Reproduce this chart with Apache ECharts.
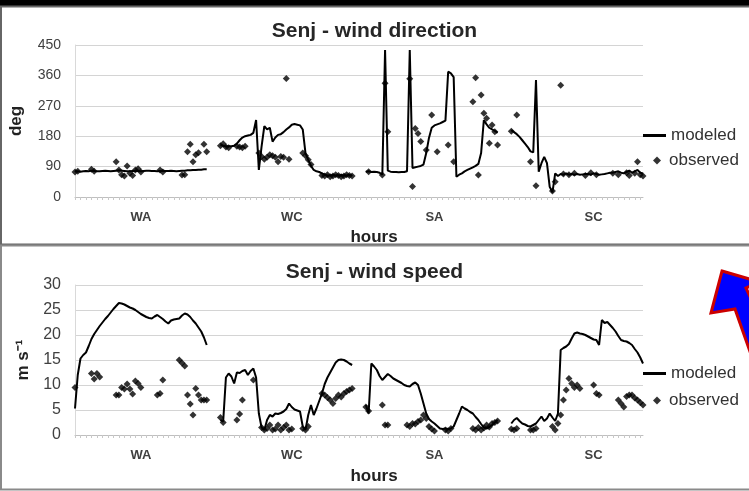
<!DOCTYPE html>
<html>
<head>
<meta charset="utf-8">
<script src="https://cdn.jsdelivr.net/npm/echarts@6/dist/echarts.min.js"></script>
<style>
html,body{margin:0;padding:0;background:#fff;}
#main{width:749px;height:491px;}
</style>
</head>
<body>
<div id="main"></div>
<script>
// hour index along the x axis, four runs of 49 hours with a short gap between them
var hourCount = 208;
var segStart = [0, 53, 106, 159];
var catLabels = ['WA', 'WC', 'SA', 'SC'];
var catLabelHour = [24, 79, 131, 189];

// wind direction, modeled (deg)
var dirModWA = [76,76,75,76,77,76,78,77,76,76,77,78,77,76,77,78,79,78,77,76,76,77,78,77,76,77,78,78,77,77,76,77,78,77,77,78,77,76,77,78,78,79,79,80,80,81,81,82,82];
var dirModWC = [154,152,150,150,150,152,158,168,176,180,182,184,190,228,80,150,210,200,205,164,176,184,186,192,200,206,214,216,214,212,200,130,110,92,80,76,74,70,66,64,64,65,64,64,65,64,64,65,64];
var dirModSA = [75,76,74,75,74,72,66,435,78,75,74,74,73,74,74,76,435,86,88,90,92,96,130,175,205,212,215,218,222,226,371,366,355,60,66,70,76,80,84,88,92,98,130,228,215,205,200,196,190];
var dirModSC = [198,192,186,178,168,158,148,135,132,346,75,100,119,100,30,14,70,62,68,66,70,66,68,66,68,66,67,68,68,66,70,68,66,67,68,70,72,72,74,76,72,70,74,78,72,76,80,72,70];

// wind direction, observed [hour, deg]
var dirObs = [[0,74],[1,76],[6,82],[7,76],[15,104],[16,80],[17,66],[18,62],[19,92],[20,70],[21,64],[22,80],[23,84],[24,74],[31,80],[32,74],[39,65],[40,66],[41,134],[42,156],[43,104],[44,125],[45,131],[47,156],[48,134],
  [53,152],[54,158],[55,148],[56,146],[59,150],[60,148],[61,146],[62,150],[67,130],[68,120],[69,112],[70,118],[71,125],[72,122],[73,118],[74,104],[75,120],[76,118],[77,351],[78,112],[83,130],[84,122],[85,110],[86,96],[90,64],[91,62],[92,66],[93,60],[94,62],[95,66],[96,64],[97,60],[98,62],[99,66],[100,64],[101,62],
  [107,75],[112,65],[113,337],[114,193],[122,350],[123,31],[124,203],[125,188],[126,164],[128,139],[130,243],[132,134],[136,154],[138,104],[145,282],[146,353],[147,65],[148,302],[149,248],[150,233],[151,159],[152,213],[153,193],[154,154],
  [159,195],[161,243],[166,104],[168,33],[174,18],[175,45],[177,331],[178,68],[180,66],[182,70],[186,64],[188,72],[190,66],[196,70],[198,66],[201,72],[202,64],[204,70],[205,104],[206,66],[207,62]];

// wind speed, modeled (m/s)
var spdModWA = [5.3,12,15.3,16,16.5,17.8,19.2,20.2,21,21.8,22.5,23.2,23.8,24.5,25.2,25.8,26.4,26.3,26.1,25.8,25.5,25.3,25,24.6,24.2,23.9,23.6,23.4,23.3,23.7,24,23.6,23.2,22.7,22.3,22.9,23.1,23.2,23.3,23.9,24.3,24.1,23.6,22.9,22.3,21.5,20.7,19.5,18];
var spdModWC = [3,2.7,11.5,12.3,11.7,10.3,12.5,12.4,12.8,13,12,12.8,13.3,11.5,4.3,1.5,1,3,4,3.7,4.3,4.2,4.4,4.7,5.2,6.3,5.6,5.1,4.9,4.7,1.7,1,4,6,4,5.3,6.8,8.3,10.2,11.5,12.5,13.5,14.5,15,15.1,15,14.7,14.3,14];
var spdModSA = [6,4.3,14.3,13.7,13,11.8,11,11.6,12.2,11.8,11.3,11,10.7,10.4,10,9.8,9.7,10.2,10.5,10,8.3,6.3,4.3,3.2,2.7,2.3,1.8,1.3,1.2,1.3,1.2,1.3,1.7,3,4.3,5.7,5.3,5,4.6,4.3,3.6,3,2.2,1.5,1.3,1.6,2,2.5,3];
var spdModSC = [2.3,3,3.4,2.8,2.3,2.1,1.8,1.7,2,2.3,3,3.7,2.8,3.3,4.3,3.5,2.8,4.3,17,17.4,17.7,18.2,19.3,20.3,20.5,20.3,20.2,20,19.7,19.4,19.1,19,18,23,22.4,22.6,22,21.4,20.7,19.8,19,18.8,18.7,18.4,18,17.2,16.5,15.5,14.3];

// wind speed, observed [hour, m/s]
var spdObs = [[0,9.5],[6,12.3],[7,11.2],[8,12.3],[9,11.6],[15,8],[16,8],[17,9.5],[18,9.2],[19,10.2],[20,9.2],[21,8.2],[22,10.8],[23,10.3],[24,9.5],[30,8],[31,8.3],[32,11],[38,15],[39,14.4],[40,13.8],[41,8],[42,6.2],[43,4],[44,9.3],[45,8],[46,7],[47,7],[48,7],
  [53,3.5],[54,2.5],[59,3],[60,4.2],[61,7],[65,11],[68,1.5],[69,1],[70,1.3],[71,2],[72,1],[73,1.2],[74,2],[75,1],[76,1.5],[77,2],[78,1],[79,1.2],[83,1.3],[84,1],[85,1.7],[90,8.3],[91,8],[92,7.5],[93,7],[94,6.3],[95,7.3],[96,8],[97,7.6],[98,8.3],[99,8.7],[100,9],[101,9.3],
  [106,5.6],[107,4.8],[112,6],[113,2],[114,2],[121,2],[122,1.7],[123,2.3],[124,2.2],[125,2.7],[126,3],[127,4],[128,3.3],[129,1.7],[130,1.2],[131,0.8],[135,1],[136,0.8],[137,1.3],[145,1.3],[146,1],[147,1.5],[148,1],[149,1.4],[150,2],[151,1.6],[152,2.3],[153,2.5],[154,2.8],
  [159,1.2],[160,1],[161,1.3],[166,1],[167,1],[168,1.3],[174,1.7],[175,1],[176,2.3],[177,4],[178,7],[179,9],[180,11.3],[181,10.3],[182,9.5],[183,10],[184,9.3],[189,10],[190,8.3],[191,8],[198,7],[199,6.3],[200,5.6],[201,7.7],[202,8],[203,8],[204,7.4],[205,7],[206,6.5],[207,6]];

var hours = [];
for (var i = 0; i < hourCount; i++) hours.push(String(i));

function joinSegments(segs) {
	var out = [];
	for (var i = 0; i < hourCount; i++) out.push(null);
	segs.forEach(function (s, k) {
		s.forEach(function (v, j) { out[segStart[k] + j] = v; });
	});
	return out;
}

var font = 'Liberation Sans, Arial, sans-serif';
var labelAt = {};
catLabelHour.forEach(function (h, k) { labelAt[h] = catLabels[k]; });

function xAxisCfg(grid, gap) {
	return {
		type: 'category', gridIndex: grid, data: hours, boundaryGap: false,
		name: 'hours', nameLocation: 'middle', nameGap: gap,
		nameTextStyle: { fontFamily: font, fontSize: 17, fontWeight: 'bold', color: '#222', padding: [0, 0, 0, 30] },
		axisLine: { lineStyle: { color: '#bfbfbf' } },
		axisTick: { show: true, interval: 1, length: 3, lineStyle: { color: '#c8c8c8' } },
		axisLabel: {
			interval: function (idx) { return labelAt[idx] !== undefined; },
			formatter: function (v, idx) { return labelAt[idx] || ''; },
			fontFamily: font, fontSize: 13, fontWeight: 'bold', color: '#404040', margin: 14
		},
		splitLine: { show: false }
	};
}

function yAxisCfg(grid, max, step, name, gap, size) {
	return {
		type: 'value', gridIndex: grid, min: 0, max: max, interval: step,
		name: name, nameLocation: 'middle', nameRotate: 90, nameGap: gap,
		nameTextStyle: { fontFamily: font, fontSize: 17, fontWeight: 'bold', color: '#222' },
		axisLine: { show: true, lineStyle: { color: '#d9d9d9' } },
		axisTick: { show: false },
		axisLabel: { fontFamily: font, fontSize: size, color: '#404040', margin: 14 },
		splitLine: { lineStyle: { color: '#d4d4d4' } }
	};
}

// one legend per entry so the line key and the diamond key get their own icon sizes
function legendLine(top) {
	return {
		left: 643, top: top, padding: 0, icon: 'rect', itemWidth: 23, itemHeight: 3,
		textStyle: { fontFamily: font, fontSize: 17, color: '#333' },
		data: ['modeled']
	};
}
function legendDot(top) {
	return {
		left: 653, top: top, padding: 0, icon: 'diamond', itemWidth: 8, itemHeight: 8,
		textStyle: { fontFamily: font, fontSize: 17, color: '#333', padding: [0, 0, 0, 3] },
		data: ['observed']
	};
}

var myChart = echarts.init(document.getElementById('main'));
var option = {
	animation: false,
	backgroundColor: '#fff',
	graphic: [
		{ type: 'rect', shape: { x: 0, y: 0, width: 749, height: 6 }, style: { fill: '#000' }, z: -1 },
		{ type: 'rect', shape: { x: 1, y: 6.5, width: 760, height: 238 }, style: { fill: 'none', stroke: '#666', lineWidth: 2 }, z: -1 },
		{ type: 'rect', shape: { x: 1, y: 245.5, width: 760, height: 244 }, style: { fill: 'none', stroke: '#8a8a8a', lineWidth: 2 }, z: -1 },
		{ type: 'polygon', z: 100,
			shape: { points: [[722, 271], [760, 282], [746, 288], [775, 350], [760, 380], [735, 309], [711, 313]] },
			style: { fill: '#0000ff', stroke: '#cc0000', lineWidth: 3, lineJoin: 'miter' } }
	],
	title: [
		{ text: 'Senj - wind direction', left: 'center', top: 16,
			textStyle: { fontFamily: font, fontSize: 21, fontWeight: 'bold', color: '#262626' } },
		{ text: 'Senj - wind speed', left: 'center', top: 257,
			textStyle: { fontFamily: font, fontSize: 21, fontWeight: 'bold', color: '#262626' } }
	],
	legend: [legendLine(127), legendDot(152), legendLine(365), legendDot(392)],
	grid: [
		{ left: 75, top: 45, width: 568, height: 152 },
		{ left: 75, top: 285, width: 568, height: 150 }
	],
	xAxis: [xAxisCfg(0, 32), xAxisCfg(1, 33)],
	yAxis: [yAxisCfg(0, 450, 90, 'deg', 50, 14), yAxisCfg(1, 30, 5, 'm s\u207B\u00B9', 40, 16)],
	series: [
		{ name: 'modeled', type: 'line', xAxisIndex: 0, yAxisIndex: 0, symbol: 'none',
			data: joinSegments([dirModWA, dirModWC, dirModSA, dirModSC]),
			lineStyle: { color: '#000', width: 2 }, itemStyle: { color: '#000' } },
		{ name: 'observed', type: 'scatter', xAxisIndex: 0, yAxisIndex: 0, symbol: 'diamond', symbolSize: 7,
			data: dirObs, itemStyle: { color: '#000' } },
		{ name: 'modeled', type: 'line', xAxisIndex: 1, yAxisIndex: 1, symbol: 'none',
			data: joinSegments([spdModWA, spdModWC, spdModSA, spdModSC]),
			lineStyle: { color: '#000', width: 2 }, itemStyle: { color: '#000' } },
		{ name: 'observed', type: 'scatter', xAxisIndex: 1, yAxisIndex: 1, symbol: 'diamond', symbolSize: 7,
			data: spdObs, itemStyle: { color: '#000' } }
	]
};
myChart.setOption(option);
</script>
</body>
</html>
